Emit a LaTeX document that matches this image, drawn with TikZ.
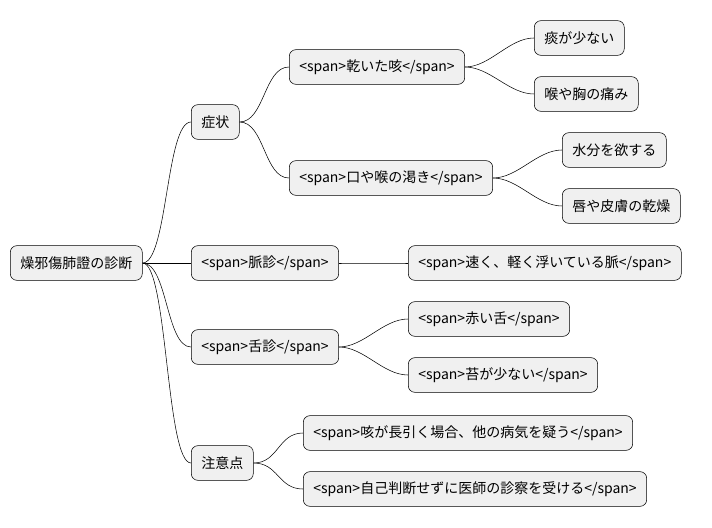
\documentclass[tikz,border=0pt]{standalone}
\usepackage{fontspec}
\setmainfont{Noto Sans CJK JP}
\usetikzlibrary{positioning}

\begin{document}
\begin{tikzpicture}[x=0.75pt,y=-0.75pt,
			every node/.style={
				draw=black,fill=black!6,rounded corners=5pt,
				anchor=west,font=\fontsize{10.5pt}{12pt}\selectfont,
				minimum height=26pt,inner xsep=7.5pt
			},
			link/.style={draw,thin}
		]
		\useasboundingbox (0,0) rectangle (712,527);
		\node (root) at (10,263) {燥邪傷肺證の診断};
		\node (sym) at (191,122) {症状};
		\node (dry) at (289,67) {<span>乾いた咳</span>};
		\node (phl) at (534,38) {痰が少ない};
		\node (pain) at (534,94) {喉や胸の痛み};
		\node (thr) at (289,178) {<span>口や喉の渇き</span>};
		\node (wat) at (562,150) {水分を欲する};
		\node (lip) at (562,206) {唇や皮膚の乾燥};
		\node (pul) at (191,263) {<span>脈診</span>};
		\node (fast) at (408,263) {<span>速く、軽く浮いている脈</span>};
		\node (ton) at (191,347) {<span>舌診</span>};
		\node (red) at (408,319) {<span>赤い舌</span>};
		\node (coat) at (408,375) {<span>苔が少ない</span>};
		\node (note) at (191,463) {注意点};
		\node (cough) at (303,433) {<span>咳が長引く場合、他の病気を疑う</span>};
		\node (self) at (303,489) {<span>自己判断せずに医師の診察を受ける</span>};
		% connectors
		\foreach \a/\b in {root/sym,root/pul,root/ton,root/note,sym/dry,sym/thr,
			dry/phl,dry/pain,thr/wat,thr/lip,pul/fast,ton/red,ton/coat,note/cough,note/self}
			\draw[link] (\a.east) .. controls +(25,0) and +(-25,0) .. (\b.west);
	\end{tikzpicture}
\end{document}
